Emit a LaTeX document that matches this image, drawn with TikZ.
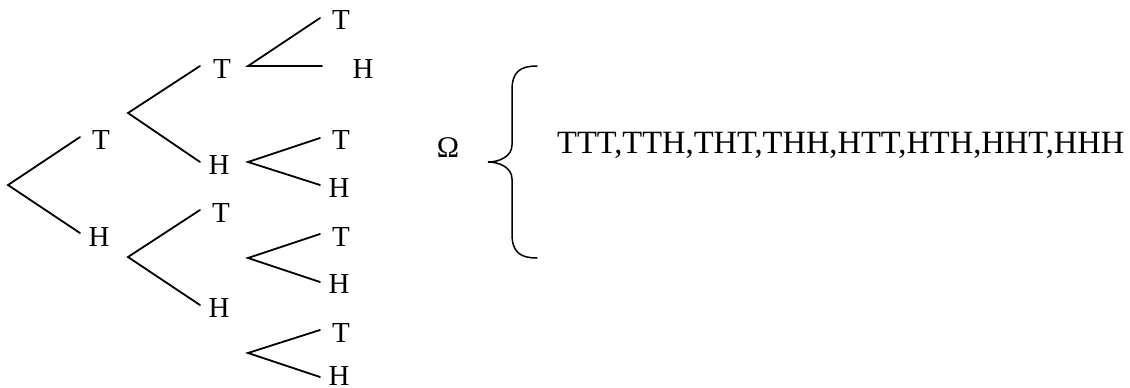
\documentclass[tikz,border=0pt]{standalone}
\usepackage{fontspec}
\setmainfont{Liberation Serif}
\begin{document}
\begin{tikzpicture}[x=1pt,y=-1pt,
  lbl/.style={inner sep=0pt,anchor=center,font=\fontsize{29}{34}\selectfont},
  br/.style={line width=1.8pt},
  line cap=round]
\useasboundingbox (0,0) rectangle (1130,388);
% vertices and branch ends
\coordinate (r) at (8,185);
\coordinate (rT) at (80,137);
\coordinate (rH) at (80,233);
\coordinate (a) at (128,113);
\coordinate (aT) at (200,66);
\coordinate (aH) at (200,162);
\coordinate (b) at (128,257);
\coordinate (bT) at (200,210);
\coordinate (bH) at (200,305);
\coordinate (c1) at (248,66);
\coordinate (c1T) at (320,18);
\coordinate (c1H) at (322,66);
\coordinate (c2) at (248,162);
\coordinate (c2T) at (320,138);
\coordinate (c2H) at (320,185);
\coordinate (c3) at (248,258);
\coordinate (c3T) at (320,234);
\coordinate (c3H) at (320,282);
\coordinate (c4) at (248,353);
\coordinate (c4T) at (320,330);
\coordinate (c4H) at (320,377);
% labels
\node[lbl] (l1T) at (101,140) {T};
\node[lbl] (l1H) at (99,237) {H};
\node[lbl] (l2T) at (222,69) {T};
\node[lbl] (l2H) at (219,165) {H};
\node[lbl] (l2bT) at (221,213) {T};
\node[lbl] (l2bH) at (219,308) {H};
\node[lbl] (m1T) at (341,20) {T};
\node[lbl] (m1H) at (363,69) {H};
\node[lbl] (m2T) at (341,140) {T};
\node[lbl] (m2H) at (339,188) {H};
\node[lbl] (m3T) at (341,237) {T};
\node[lbl] (m3H) at (339,284) {H};
\node[lbl] (m4T) at (341,333) {T};
\node[lbl] (m4H) at (339,376) {H};
% branches
\draw[br] (rT) -- (r) -- (rH);
\draw[br] (aT) -- (a) -- (aH);
\draw[br] (bT) -- (b) -- (bH);
\draw[br] (c1T) -- (c1) -- (c1H);
\draw[br] (c2T) -- (c2) -- (c2H);
\draw[br] (c3T) -- (c3) -- (c3H);
\draw[br] (c4T) -- (c4) -- (c4H);
% Omega and brace
\node[lbl,font=\fontsize{30}{36}\selectfont] (om) at (448,148) {Ω};
\coordinate (bt) at (537,66);
\coordinate (bb) at (537,258);
\coordinate (tip) at (488,162);
\draw[line width=1.5pt] (bt) .. controls (520,66) and (512,72) .. (512,90) -- (512,145)
  .. controls (512,156) and (500,162) .. (tip)
  .. controls (500,162) and (512,168) .. (512,179) -- (512,234)
  .. controls (512,252) and (520,258) .. (bb);
\node[inner sep=0pt,anchor=base west,font=\fontsize{32.5}{38}\selectfont] (set) at (557,153) {TTT,TTH,THT,THH,HTT,HTH,HHT,HHH};
\end{tikzpicture}
\end{document}
